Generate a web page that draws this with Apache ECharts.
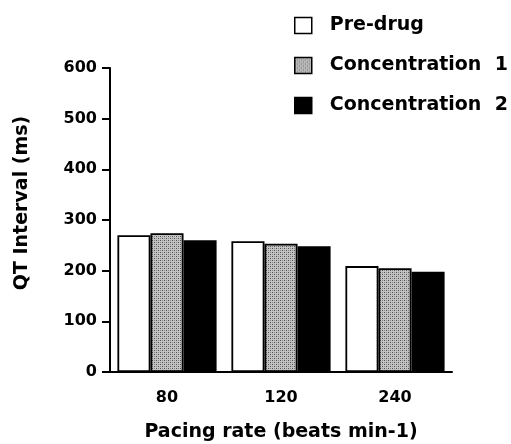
<!DOCTYPE html>
<html><head><meta charset="utf-8">
<script src="https://cdn.jsdelivr.net/npm/echarts@6/dist/echarts.min.js"></script>
<style>html,body{margin:0;padding:0;background:#fff}#c{width:511px;height:444px}</style>
</head><body><div id="c"></div>
<script>
var categories = ['80', '120', '240'];
var preDrug = [270, 258, 209];
var conc1 = [274, 253, 205];
var conc2 = [260, 248, 198];
var seriesNames = ['Pre-drug', 'Concentration  1', 'Concentration  2'];
var yTicks = [0, 100, 200, 300, 400, 500, 600];

function stipple() {
  var c = document.createElement('canvas');
  c.width = 4; c.height = 4;
  var ctx = c.getContext('2d');
  ctx.fillStyle = '#c4c4c4'; ctx.fillRect(0, 0, 4, 4);
  ctx.fillStyle = '#505050';
  ctx.fillRect(0, 0, 1, 1); ctx.fillRect(2, 2, 1, 1);
  ctx.fillStyle = '#858585';
  ctx.fillRect(2, 0, 1, 1); ctx.fillRect(0, 2, 1, 1);
  return c;
}
var grey = { image: stipple(), repeat: 'repeat' };
var font = 'DejaVu Sans';
var chart = echarts.init(document.getElementById('c'), null, { renderer: 'canvas' });
var barStyle = function (col) { return { color: col, borderColor: '#000', borderWidth: 1.8 }; };
chart.setOption({
  animation: false,
  backgroundColor: '#fff',
  textStyle: { fontFamily: font },
  grid: { left: 110, right: 59, top: 68, bottom: 72, containLabel: false, outerBoundsMode: 'none' },
  legend: {
    orient: 'vertical', left: 289, top: 11, itemWidth: 17, itemHeight: 16, itemGap: 21,
    icon: 'rect',
    itemStyle: { borderColor: '#000', borderWidth: 1.5 },
    textStyle: { fontFamily: font, fontWeight: 'bold', fontSize: 19, color: '#000', padding: [0, 0, 0, 13] },
    data: seriesNames
  },
  xAxis: {
    type: 'category', data: categories,
    axisLine: { lineStyle: { color: '#000', width: 2 } },
    axisTick: { alignWithLabel: true, length: 8, lineStyle: { color: '#000', width: 2 } },
    axisLabel: { color: '#000', fontWeight: 'bold', fontSize: 16, margin: 18, fontFamily: font },
    name: 'Pacing rate (beats min-1)', nameLocation: 'middle', nameGap: 51,
    nameTextStyle: { color: '#000', fontWeight: 'bold', fontSize: 19, fontFamily: font }
  },
  yAxis: {
    type: 'value', min: 0, max: 600, interval: 100,
    splitLine: { show: false },
    axisLine: { show: true, lineStyle: { color: '#000', width: 2 } },
    axisTick: { show: true, length: 8, lineStyle: { color: '#000', width: 2 } },
    axisLabel: { color: '#000', fontWeight: 'bold', fontSize: 16, margin: 13, fontFamily: font },
    name: 'QT Interval (ms)', nameLocation: 'middle', nameGap: 78,
    nameTextStyle: { color: '#000', fontWeight: 'bold', fontSize: 19, fontFamily: font, padding: [0, 0, 0, 34] }
  },
  series: [
    { name: seriesNames[0], type: 'bar', data: preDrug, barGap: '0%', barCategoryGap: '13%', itemStyle: barStyle('#fff') },
    { name: seriesNames[1], type: 'bar', data: conc1, barGap: '0%', barCategoryGap: '13%', itemStyle: barStyle(grey) },
    { name: seriesNames[2], type: 'bar', data: conc2, barGap: '0%', barCategoryGap: '13%', itemStyle: barStyle('#000') }
  ]
});
</script></body></html>
